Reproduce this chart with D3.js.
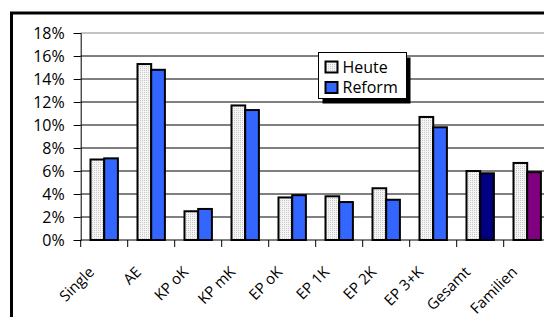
<!DOCTYPE html>
<html><head><meta charset="utf-8">
<script src="https://cdn.jsdelivr.net/npm/d3@7"></script>
<style>body{margin:0;background:#fff}svg{display:block}text{font-family:"Open Sans","Noto Sans",sans-serif;fill:#000}</style>
</head><body>
<script>
const categories = ["Single","AE","KP oK","KP mK","EP oK","EP 1K","EP 2K","EP 3+K","Gesamt","Familien"];
const heute = [7.0,15.3,2.5,11.7,3.7,3.8,4.5,10.7,6.0,6.7];
const reform = [7.1,14.8,2.7,11.3,3.9,3.3,3.5,9.8,5.8,5.9];
const reformColors = ["#3366ff","#3366ff","#3366ff","#3366ff","#3366ff","#3366ff","#3366ff","#3366ff","#000080","#800080"];
const yTicks = [0,2,4,6,8,10,12,14,16,18];
const seriesNames = ["Heute","Reform"];

(function(){
const W=544,H=317;
const svg=d3.select("body").append("svg").attr("width",W).attr("height",H);
const defs=svg.append("defs");
const pat=defs.append("pattern").attr("id","dots").attr("patternUnits","userSpaceOnUse").attr("width",2).attr("height",2);
pat.append("rect").attr("width",2).attr("height",2).attr("fill","#f4f4f4");
pat.append("rect").attr("width",1).attr("height",1).attr("fill","#c8c8c8");

// outer frame
svg.append("rect").attr("x",11.5).attr("y",13).attr("width",600).attr("height",400).attr("fill","none").attr("stroke","#000").attr("stroke-width",3);

const pl=80.7,pr=550.7,pt=33,pb=240;
const x=d3.scaleBand().domain(categories).range([pl,pr]);
const y=d3.scaleLinear().domain([0,18]).range([pb,pt]);

// gridlines
svg.append("g").selectAll("line").data(yTicks.filter(d=>d>0)).join("line")
 .attr("x1",pl).attr("x2",pr).attr("y1",d=>y(d)).attr("y2",d=>y(d))
 .attr("stroke",d=>d===18?"#888":"#000").attr("stroke-width",1);

// y axis
const ya=svg.append("g").attr("transform",`translate(${pl},0)`)
 .call(d3.axisLeft(y).tickValues(yTicks).tickFormat(d=>d+"%").tickSize(7).tickPadding(9));
ya.select(".domain").attr("stroke","#000");
ya.selectAll("text").style("font-size","16px").style("font-family","'Open Sans','Noto Sans',sans-serif");

// x axis
const xa=svg.append("g").attr("transform",`translate(0,${pb})`);
xa.append("line").attr("x1",pl).attr("x2",pr).attr("y1",0).attr("y2",0).attr("stroke","#000");
const tickPos=categories.map(c=>x(c)).concat([pr]);
xa.selectAll("line.t").data(tickPos).join("line").attr("class","t")
 .attr("x1",d=>d).attr("x2",d=>d).attr("y1",0).attr("y2",7).attr("stroke","#000");
xa.selectAll("text").data(categories).join("text")
 .attr("transform",d=>`translate(${x(d)+x.bandwidth()/2-9},${33}) rotate(-45)`)
 .attr("text-anchor","end").style("font-size","15px").text(d=>d);

// bars
const bw=13.7;
const g=svg.append("g");
categories.forEach((c,i)=>{
  const cx=x(c)+x.bandwidth()/2;
  g.append("rect").attr("x",cx-bw).attr("y",y(heute[i])).attr("width",bw).attr("height",pb-y(heute[i]))
   .attr("fill","url(#dots)").attr("stroke","#000").attr("stroke-width",2);
  g.append("rect").attr("x",cx).attr("y",y(reform[i])).attr("width",bw).attr("height",pb-y(reform[i]))
   .attr("fill",reformColors[i]).attr("stroke","#000").attr("stroke-width",2);
});

// legend
const lx=318.5,ly=52.5,lw=88,lh=46;
svg.append("rect").attr("x",lx+4).attr("y",ly+5).attr("width",lw).attr("height",lh).attr("fill","#000");
svg.append("rect").attr("x",lx).attr("y",ly).attr("width",lw).attr("height",lh).attr("fill","#fff").attr("stroke","#000").attr("stroke-width",1);
const fills=["url(#dots)","#3366ff"];
seriesNames.forEach((s,i)=>{
  const yy=ly+9+i*20.5;
  svg.append("rect").attr("x",lx+7).attr("y",yy).attr("width",12).attr("height",11).attr("fill",fills[i]).attr("stroke","#000").attr("stroke-width",2);
  svg.append("text").attr("x",lx+24).attr("y",yy+5.5).attr("dy","0.36em").style("font-size","16px").text(s);
});
})();
</script>
</body></html>
